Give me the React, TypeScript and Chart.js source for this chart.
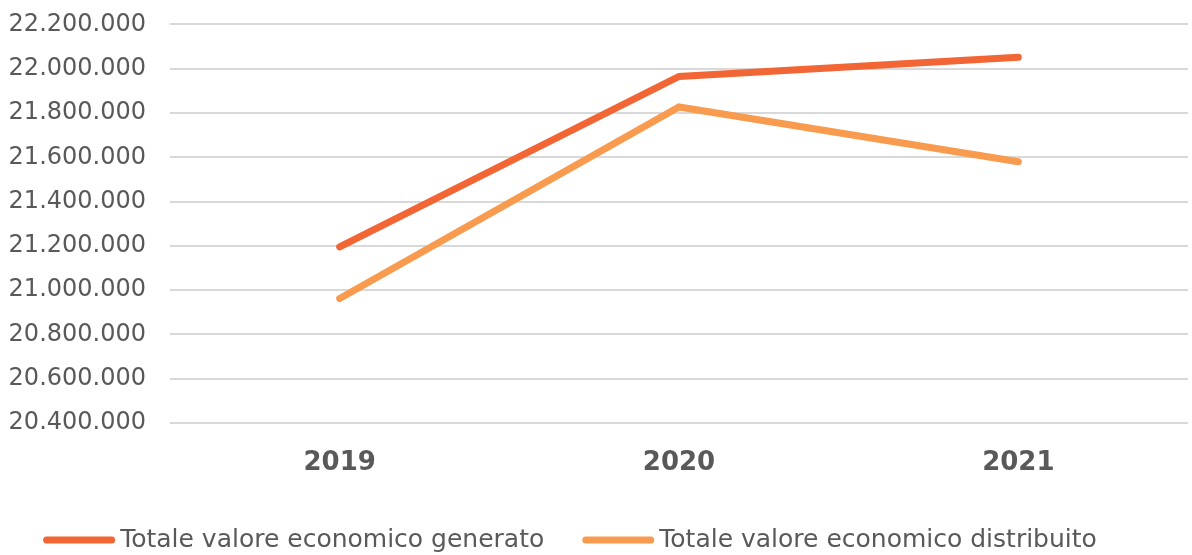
import React, { useEffect, useRef } from "react";
import { Chart, registerables } from "chart.js";

Chart.register(...registerables);

const categories = ["2019", "2020", "2021"];
const generato = [21195000, 21965000, 22052000];
const distribuito = [20962000, 21827000, 21580000];
const seriesNames = ["Totale valore economico generato", "Totale valore economico distribuito"];
const seriesColors = ["#F26535", "#F99B4F"];
const yMin = 20400000;
const yMax = 22200000;
const yStep = 200000;

const fmt = (v: number) => String(Math.round(v)).replace(/\B(?=(\d{3})+(?!\d))/g, ".");

const SHIFT = 14;
const CANVAS_H = 555 + SHIFT;

const legendPlugin = {
  id: "lineLegend",
  afterDraw(chart: any) {
    const ctx = chart.ctx;
    const sets = chart.data.datasets;
    ctx.save();
    ctx.font = "25px 'DejaVu Sans'";
    const sample = 72;
    const gap = 5;
    const itemGap = 38;
    const widths = sets.map((d: any) => ctx.measureText(d.label).width);
    const total =
      widths.reduce((a: number, w: number) => a + w, 0) +
      sets.length * (sample + gap) +
      (sets.length - 1) * itemGap;
    let x = 570 - total / 2;
    const y = 540 + SHIFT;
    sets.forEach((d: any, i: number) => {
      ctx.strokeStyle = d.borderColor;
      ctx.lineWidth = 7;
      ctx.lineCap = "round";
      ctx.beginPath();
      ctx.moveTo(x + 3.5, y);
      ctx.lineTo(x + sample - 3.5, y);
      ctx.stroke();
      x += sample + gap;
      ctx.fillStyle = "#595959";
      ctx.textBaseline = "middle";
      ctx.textAlign = "left";
      ctx.fillText(d.label, x, y);
      x += widths[i] + itemGap;
    });
    ctx.restore();
  },
};

export default function App() {
  const ref = useRef<HTMLCanvasElement | null>(null);
  useEffect(() => {
    document.body.style.margin = "0";
    const ctx = ref.current!;
    const chart = new Chart(ctx, {
      type: "line",
      data: {
        labels: categories,
        datasets: [
          {
            label: seriesNames[0],
            data: generato,
            borderColor: seriesColors[0],
            backgroundColor: seriesColors[0],
            borderWidth: 7,
            borderCapStyle: "round",
            borderJoinStyle: "miter",
            pointRadius: 0,
            tension: 0,
          },
          {
            label: seriesNames[1],
            data: distribuito,
            borderColor: seriesColors[1],
            backgroundColor: seriesColors[1],
            borderWidth: 7,
            borderCapStyle: "round",
            borderJoinStyle: "miter",
            pointRadius: 0,
            tension: 0,
          },
        ],
      },
      options: {
        animation: false,
        responsive: false,
        layout: { padding: { left: 8, right: 4, top: 0, bottom: 66 } },
        scales: {
          x: {
            offset: true,
            grid: { display: false },
            border: { display: false },
            afterFit: (s: any) => {
              s.height = 66;
            },
            ticks: {
              color: "#595959",
              padding: 17,
              font: { family: "DejaVu Sans", size: 26, weight: "bold" },
            },
          },
          y: {
            min: yMin,
            max: yMax,
            border: { display: false },
            grid: { color: "#D9D9D9", lineWidth: 2, drawTicks: false },
            afterFit: (s: any) => {
              s.width = 162;
            },
            ticks: {
              stepSize: yStep,
              color: "#595959",
              padding: 24,
              font: { family: "DejaVu Sans", size: 24 },
              callback: (v: any) => fmt(Number(v)),
            },
          },
        },
        plugins: {
          tooltip: { enabled: false },
          legend: { display: false },
        },
      },
      plugins: [legendPlugin],
    } as any);
    return () => chart.destroy();
  }, []);
  return (
    <div style={{ width: 1192, height: 555, overflow: "hidden", position: "relative" }}>
      <canvas
        ref={ref}
        width={1192}
        height={CANVAS_H}
        style={{ position: "absolute", left: 0, top: -SHIFT }}
      />
    </div>
  );
}
